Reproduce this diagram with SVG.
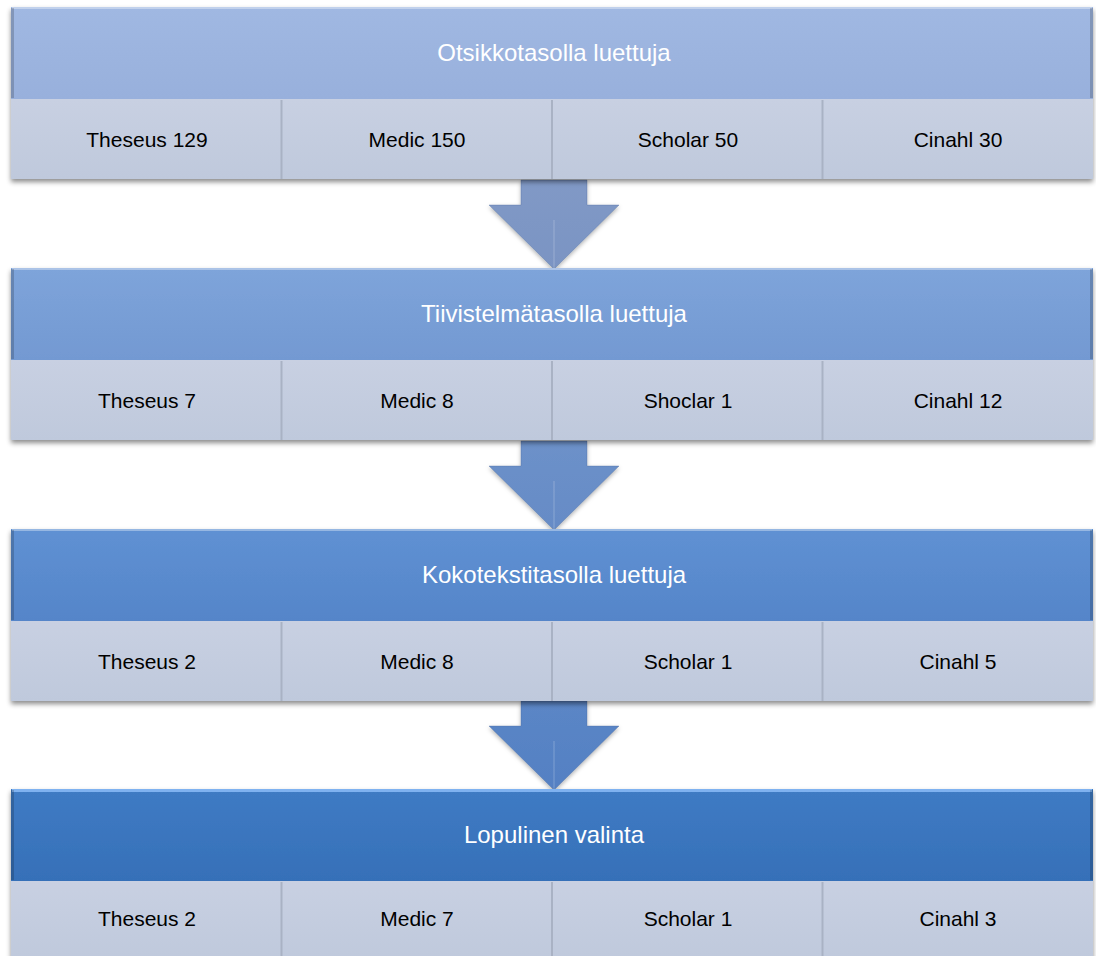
<svg xmlns="http://www.w3.org/2000/svg" width="1096" height="956" viewBox="0 0 1096 956">
<defs>
<style>
.ht{font-family:"Liberation Sans",Arial,sans-serif;font-size:24px;fill:#ffffff;text-anchor:middle}
.ct{font-family:"Liberation Sans",Arial,sans-serif;font-size:21px;fill:#000000;text-anchor:middle}
.cell{fill:url(#gc)}
.div{stroke:#a9b2c4;stroke-width:2}
.divl{stroke:#d6dcea;stroke-width:1}
.bevt{stroke:#ffffff;stroke-opacity:0.35;stroke-width:2}
.bevd{stroke:#000000;stroke-opacity:0.18;stroke-width:3}
.arr{stroke:#4a6a9c;stroke-opacity:0.35;stroke-width:1}
</style>
<filter id="sh" x="-5%" y="-10%" width="110%" height="130%">
<feDropShadow dx="0" dy="3" stdDeviation="2.5" flood-color="#000" flood-opacity="0.45"/>
</filter>
<filter id="sha" x="-20%" y="-20%" width="140%" height="150%">
<feDropShadow dx="0" dy="2" stdDeviation="2" flood-color="#000" flood-opacity="0.3"/>
</filter>
<linearGradient id="gc" x1="0" y1="0" x2="0" y2="1">
<stop offset="0" stop-color="#c8d0e2"/><stop offset="1" stop-color="#bfc9dc"/>
</linearGradient>
<linearGradient id="g1" x1="0" y1="0" x2="0" y2="1">
<stop offset="0" stop-color="#a0b8e2"/><stop offset="1" stop-color="#98b0dc"/>
</linearGradient>
<linearGradient id="g2" x1="0" y1="0" x2="0" y2="1">
<stop offset="0" stop-color="#7ea4da"/><stop offset="1" stop-color="#7399d2"/>
</linearGradient>
<linearGradient id="g3" x1="0" y1="0" x2="0" y2="1">
<stop offset="0" stop-color="#5f91d3"/><stop offset="1" stop-color="#5585c9"/>
</linearGradient>
<linearGradient id="g4" x1="0" y1="0" x2="0" y2="1">
<stop offset="0" stop-color="#3f7bc4"/><stop offset="1" stop-color="#3670b8"/>
</linearGradient>
<linearGradient id="a1" x1="0" y1="0" x2="0" y2="1">
<stop offset="0" stop-color="#8199c6"/><stop offset="1" stop-color="#7a94c3"/>
</linearGradient>
<linearGradient id="a2" x1="0" y1="0" x2="0" y2="1">
<stop offset="0" stop-color="#6d91c9"/><stop offset="1" stop-color="#658bc6"/>
</linearGradient>
<linearGradient id="a3" x1="0" y1="0" x2="0" y2="1">
<stop offset="0" stop-color="#5b86c6"/><stop offset="1" stop-color="#5480c3"/>
</linearGradient>
<path id="arrow" d="M-33,0 H33 V25 H65 L0,89 L-65,25 H-33 Z"/>
</defs>
<rect width="1096" height="956" fill="#ffffff"/>

<g id="connectors">
<g transform="translate(554,180)" filter="url(#sha)"><use href="#arrow" fill="url(#a1)" class="arr"/><path d="M0,89 V40" stroke="#ffffff" stroke-opacity="0.12" stroke-width="2"/></g>
<g transform="translate(554,441)" filter="url(#sha)"><use href="#arrow" fill="url(#a2)" class="arr"/><path d="M0,89 V40" stroke="#ffffff" stroke-opacity="0.12" stroke-width="2"/></g>
<g transform="translate(554,701)" filter="url(#sha)"><use href="#arrow" fill="url(#a3)" class="arr"/><path d="M0,89 V40" stroke="#ffffff" stroke-opacity="0.12" stroke-width="2"/></g>
</g>

<g id="stage1">
<g filter="url(#sh)">
<rect x="11" y="7" width="1082" height="92" fill="url(#g1)"/>
<rect x="11" y="99" width="1082" height="80" class="cell"/>
</g>
<line x1="12" y1="8" x2="1092" y2="8" class="bevt"/>
<line x1="1091.5" y1="8" x2="1091.5" y2="98" class="bevd"/>
<line x1="12.5" y1="8" x2="12.5" y2="98" class="bevd"/>
<line x1="281.5" y1="100" x2="281.5" y2="179" class="div"/>
<line x1="552" y1="100" x2="552" y2="179" class="div"/>
<line x1="822.5" y1="100" x2="822.5" y2="179" class="div"/>
<text x="554" y="61" class="ht">Otsikkotasolla luettuja</text>
<text x="147" y="147" class="ct">Theseus 129</text>
<text x="417" y="147" class="ct">Medic 150</text>
<text x="688" y="147" class="ct">Scholar 50</text>
<text x="958" y="147" class="ct">Cinahl 30</text>
</g>

<g id="stage2">
<g filter="url(#sh)">
<rect x="11" y="268" width="1082" height="92" fill="url(#g2)"/>
<rect x="11" y="360" width="1082" height="80" class="cell"/>
</g>
<line x1="12" y1="269" x2="1092" y2="269" class="bevt"/>
<line x1="1091.5" y1="269" x2="1091.5" y2="359" class="bevd"/>
<line x1="12.5" y1="269" x2="12.5" y2="359" class="bevd"/>
<line x1="281.5" y1="361" x2="281.5" y2="440" class="div"/>
<line x1="552" y1="361" x2="552" y2="440" class="div"/>
<line x1="822.5" y1="361" x2="822.5" y2="440" class="div"/>
<text x="554" y="322" class="ht">Tiivistelmätasolla luettuja</text>
<text x="147" y="408" class="ct">Theseus 7</text>
<text x="417" y="408" class="ct">Medic 8</text>
<text x="688" y="408" class="ct">Shoclar 1</text>
<text x="958" y="408" class="ct">Cinahl 12</text>
</g>

<g id="stage3">
<g filter="url(#sh)">
<rect x="11" y="529" width="1082" height="92" fill="url(#g3)"/>
<rect x="11" y="621" width="1082" height="80" class="cell"/>
</g>
<line x1="12" y1="530" x2="1092" y2="530" class="bevt"/>
<line x1="1091.5" y1="530" x2="1091.5" y2="620" class="bevd"/>
<line x1="12.5" y1="530" x2="12.5" y2="620" class="bevd"/>
<line x1="281.5" y1="622" x2="281.5" y2="701" class="div"/>
<line x1="552" y1="622" x2="552" y2="701" class="div"/>
<line x1="822.5" y1="622" x2="822.5" y2="701" class="div"/>
<text x="554" y="583" class="ht">Kokotekstitasolla luettuja</text>
<text x="147" y="669" class="ct">Theseus 2</text>
<text x="417" y="669" class="ct">Medic 8</text>
<text x="688" y="669" class="ct">Scholar 1</text>
<text x="958" y="669" class="ct">Cinahl 5</text>
</g>

<g id="stage4">
<g filter="url(#sh)">
<rect x="11" y="789" width="1082" height="92" fill="url(#g4)"/>
<rect x="11" y="881" width="1082" height="80" class="cell"/>
</g>
<line x1="12" y1="790.5" x2="1092" y2="790.5" stroke="#7fb2f0" stroke-width="3"/>
<line x1="1091.5" y1="790" x2="1091.5" y2="880" class="bevd"/>
<line x1="12.5" y1="790" x2="12.5" y2="880" class="bevd"/>
<line x1="281.5" y1="882" x2="281.5" y2="956" class="div"/>
<line x1="552" y1="882" x2="552" y2="956" class="div"/>
<line x1="822.5" y1="882" x2="822.5" y2="956" class="div"/>
<text x="554" y="843" class="ht">Lopulinen valinta</text>
<text x="147" y="926" class="ct">Theseus 2</text>
<text x="417" y="926" class="ct">Medic 7</text>
<text x="688" y="926" class="ct">Scholar 1</text>
<text x="958" y="926" class="ct">Cinahl 3</text>
</g>
</svg>
